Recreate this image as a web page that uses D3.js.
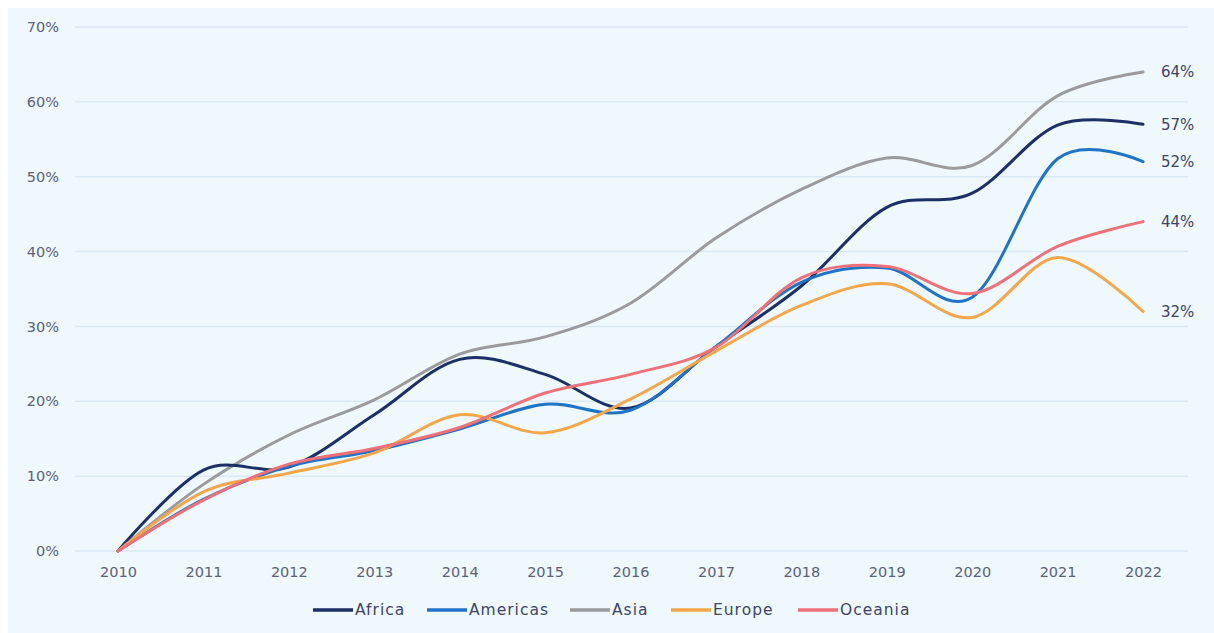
<!DOCTYPE html>
<html>
<head>
<meta charset="utf-8">
<script src="https://cdn.jsdelivr.net/npm/d3@7/dist/d3.min.js"></script>
<style>
  html, body { margin: 0; padding: 0; background: #ffffff; }
  svg { display: block; }
  text { font-family: "DejaVu Sans", "Noto Sans", sans-serif; }
</style>
</head>
<body>
<svg id="chart" width="1214" height="633"></svg>
<script>
// Cumulative growth by region, 2010 = 0%
const years = [2010, 2011, 2012, 2013, 2014, 2015, 2016, 2017, 2018, 2019, 2020, 2021, 2022];
const regions = ["Africa", "Americas", "Asia", "Europe", "Oceania"];
const africa   = [0, 10.8, 11.2, 18.2, 25.6, 23.6, 19.1, 27.3, 35.4, 45.9, 47.8, 56.9, 57];
const americas = [0, 6.9, 11.3, 13.4, 16.3, 19.6, 18.8, 27.3, 35.9, 37.8, 33.9, 52.4, 52];
const asia     = [0, 8.9, 15.5, 20.2, 26.3, 28.6, 33.1, 41.8, 48.3, 52.5, 51.5, 60.8, 64];
const europe   = [0, 7.9, 10.4, 13.1, 18.2, 15.8, 20.3, 26.7, 32.8, 35.7, 31.2, 39.2, 32];
const oceania  = [0, 6.8, 11.6, 13.7, 16.5, 21.1, 23.6, 27.2, 36.5, 38.0, 34.4, 40.7, 44];
const yTicks = [0, 10, 20, 30, 40, 50, 60, 70];
const colors = ["#1c2f66", "#1f74c7", "#999b9d", "#f5a649", "#f07078"];

const seriesValues = [africa, americas, asia, europe, oceania];

const svg = d3.select("#chart");
const W = 1214, H = 633;

// panel background
svg.append("rect").attr("x", 8).attr("y", 8).attr("width", W - 8).attr("height", H - 8)
  .attr("fill", "#eef8fd");

const x = d3.scalePoint().domain(years).range([118, 1143]);
const y = d3.scaleLinear().domain([0, 70]).range([551, 27]);

// gridlines
svg.append("g").selectAll("line").data(yTicks).join("line")
  .attr("x1", 75).attr("x2", 1188)
  .attr("y1", d => y(d)).attr("y2", d => y(d))
  .attr("stroke", "#dbe9f5").attr("stroke-width", 1.5);

// y axis labels
const yAxis = d3.axisLeft(y).tickValues(yTicks).tickFormat(d => d + "%").tickSize(0).tickPadding(0);
const gy = svg.append("g").attr("transform", "translate(59,0)").call(yAxis);
gy.select(".domain").remove();
gy.selectAll("text").attr("fill", "#5b6279").attr("font-size", 14.5)
  .attr("font-family", "'DejaVu Sans', sans-serif");

// x axis labels
const xAxis = d3.axisBottom(x).tickSize(0).tickPadding(0);
const gx = svg.append("g").attr("transform", "translate(0,567)").call(xAxis);
gx.select(".domain").remove();
gx.selectAll("text").attr("fill", "#5b6279").attr("font-size", 14.5)
  .attr("font-family", "'DejaVu Sans', sans-serif");

// lines
const line = d3.line()
  .x((d, i) => x(years[i]))
  .y(d => y(d))
  .curve(d3.curveCardinal.tension(0));

const order = [2, 0, 1, 3, 4];
svg.append("g").selectAll("path").data(order).join("path")
  .attr("d", k => line(seriesValues[k]))
  .attr("fill", "none")
  .attr("stroke", k => colors[k])
  .attr("stroke-width", 3)
  .attr("stroke-linecap", "round")
  .attr("stroke-linejoin", "round");

// end labels
svg.append("g").selectAll("text").data(seriesValues).join("text")
  .attr("x", 1161)
  .attr("y", d => y(d[d.length - 1]))
  .attr("dy", "0.35em")
  .attr("font-size", 15)
  .attr("fill", "#3d4567")
  .text(d => d[d.length - 1] + "%");

// legend
const legendX = [313, 427, 570, 671, 798];
const lg = svg.append("g").attr("transform", "translate(0,610)");
const items = lg.selectAll("g").data(regions).join("g")
  .attr("transform", (d, i) => `translate(${legendX[i]},0)`);
items.append("line").attr("x1", 0).attr("x2", 40).attr("y1", 0).attr("y2", 0)
  .attr("stroke", (d, i) => colors[i]).attr("stroke-width", 3.5);
items.append("text").attr("x", 42).attr("dy", "0.35em")
  .attr("font-size", 15.5).attr("letter-spacing", 1).attr("fill", "#3d4567").text(d => d);
</script>
</body>
</html>
